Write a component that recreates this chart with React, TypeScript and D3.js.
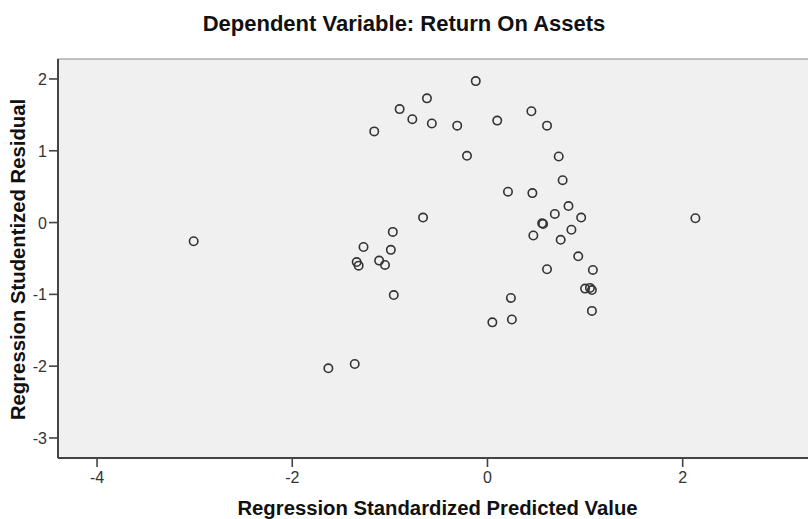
import React from "react";
import * as d3 from "d3";

const title = "Dependent Variable: Return On Assets";
const xTitle = "Regression Standardized Predicted Value";
const yTitle = "Regression Studentized Residual";
const xTicks = [-4, -2, 0, 2];
const yTicks = [-3, -2, -1, 0, 1, 2];

const predicted = [
  -3.01, 2.13, -0.62, -0.9, -0.77, -0.57, -1.16, -0.66, -0.97, -1.27, -0.99, -1.34,
  -1.32, -1.11, -1.05, -0.96, -1.63, -1.36, -0.12, 0.45, -0.31, 0.1, 0.61, -0.21,
  0.73, 0.77, 0.21, 0.46, 0.83, 0.69, 0.96, 0.57, 0.56, 0.86, 0.47, 0.75, 0.93,
  0.61, 1.08, 1.0, 1.05, 1.07, 1.07, 0.24, 0.05, 0.25,
];
const residual = [
  -0.26, 0.06, 1.73, 1.58, 1.44, 1.38, 1.27, 0.07, -0.13, -0.34, -0.38, -0.55,
  -0.6, -0.53, -0.59, -1.01, -2.03, -1.97, 1.97, 1.55, 1.35, 1.42, 1.35, 0.93,
  0.92, 0.59, 0.43, 0.41, 0.23, 0.12, 0.07, -0.02, -0.01, -0.1, -0.18, -0.24, -0.47,
  -0.65, -0.66, -0.92, -0.91, -0.94, -1.23, -1.05, -1.39, -1.35,
];

const W = 808;
const H = 519;
const left = 58;
const right = 817;
const top = 59;
const bottom = 458;

export default function App() {
  const x = d3.scaleLinear().domain([-4.4, 3.376]).range([left, right]);
  const y = d3.scaleLinear().domain([-3.279, 2.278]).range([bottom, top]);
  const font = "'Liberation Sans', Arial, sans-serif";
  return (
    <div style={{ position: "absolute", left: 0, top: 0, width: W, height: H, background: "#fff" }}>
      <svg width={W} height={H} style={{ display: "block" }} fontFamily={font}>
        <rect x={0} y={0} width={W} height={H} fill="#fff" />
        <text x={404} y={31} textAnchor="middle" fontSize={22} fontWeight="bold" fill="#111">
          {title}
        </text>
        <rect x={left} y={top} width={right - left} height={bottom - top} fill="#F0F0F0" stroke="#8a8a8a" strokeWidth={1} />
        <line x1={left} x2={left} y1={top} y2={bottom} stroke="#444" strokeWidth={2} />
        <line x1={left} x2={right} y1={bottom} y2={bottom} stroke="#444" strokeWidth={2} />
        {yTicks.map((t) => (
          <g key={"y" + t}>
            <line x1={49} x2={left} y1={y(t)} y2={y(t)} stroke="#444" strokeWidth={1.6} />
            <text x={47} y={y(t) + 6} textAnchor="end" fontSize={16} fill="#333">
              {t}
            </text>
          </g>
        ))}
        {xTicks.map((t) => (
          <g key={"x" + t}>
            <line x1={x(t)} x2={x(t)} y1={bottom} y2={bottom + 9} stroke="#444" strokeWidth={1.6} />
            <text x={x(t)} y={482.5} textAnchor="middle" fontSize={16} fill="#333">
              {t}
            </text>
          </g>
        ))}
        {predicted.map((p, i) => (
          <circle key={i} cx={x(p)} cy={y(residual[i])} r={4.2} fill="none" stroke="#333" strokeWidth={1.6} />
        ))}
        <text x={437.5} y={515} textAnchor="middle" fontSize={20.3} fontWeight="bold" fill="#111">
          {xTitle}
        </text>
        <text transform="translate(25,259.5) rotate(-90)" textAnchor="middle" fontSize={20.3} fontWeight="bold" fill="#111">
          {yTitle}
        </text>
      </svg>
    </div>
  );
}
